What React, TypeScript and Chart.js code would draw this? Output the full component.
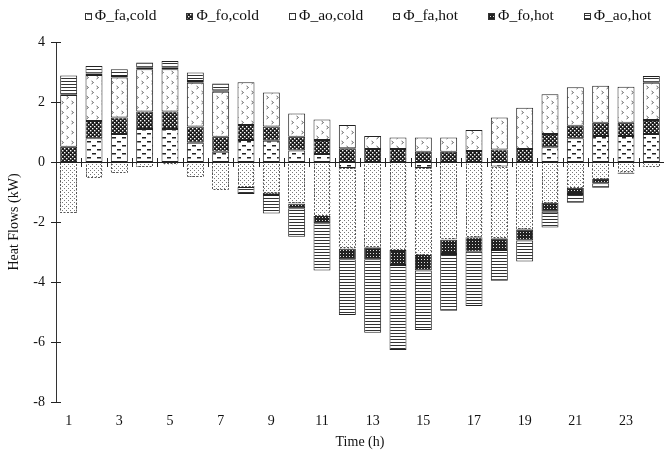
import React, { useEffect, useRef } from "react";
import { Chart, registerables } from "chart.js";
Chart.register(...registerables);

const hours = ["1","2","3","4","5","6","7","8","9","10","11","12","13","14","15","16","17","18","19","20","21","22","23","24"];
const yTickValues = [-8, -6, -4, -2, 0, 2, 4];

const faCold = [null,0.79,0.93,1.1,1.1,0.64,0.34,0.73,0.71,0.38,0.27,-0.2,null,null,-0.2,null,null,-0.15,null,0.49,0.79,0.87,0.87,0.93];
const foCold = [0.51,0.58,0.55,0.58,0.58,0.54,0.5,0.5,0.47,0.46,0.46,0.46,0.43,0.43,0.34,0.34,0.37,0.42,0.43,0.44,0.42,0.44,0.44,0.47];
const aoCold = [1.72,1.53,1.34,1.41,1.41,1.46,1.5,1.43,1.14,0.78,0.69,0.77,0.44,0.39,0.48,0.48,0.7,1.06,1.38,1.33,1.28,1.23,1.2,1.24];
const faHot = [-1.71,-0.53,-0.38,-0.18,-0.08,-0.5,-0.93,-0.83,-1.02,-1.38,-1.8,-2.68,-2.84,-2.93,-2.9,-2.58,-2.51,-2.39,-2.24,-1.36,-0.86,-0.57,-0.35,-0.18];
const foHot = [0.03,0.05,0.05,0.05,0.05,0.06,0.05,null,-0.08,-0.16,-0.24,-0.36,-0.4,-0.5,-0.52,-0.49,-0.48,-0.39,-0.38,-0.3,-0.21,-0.14,-0.04,null];
const aoHot = [0.62,0.25,0.22,0.18,0.23,0.28,0.23,-0.24,-0.62,-0.95,-1.58,-1.86,-2.45,-2.84,-1.98,-1.89,-1.81,-1.03,-0.7,-0.52,-0.29,-0.15,null,0.23];

const seriesNames = ["Φ_fa,cold", "Φ_fo,cold", "Φ_ao,cold", "Φ_fa,hot", "Φ_fo,hot", "Φ_ao,hot"];

const FONT = '"Liberation Serif", "Times New Roman", serif';

function makePattern(w: number, h: number, bg: string, draw: (c: CanvasRenderingContext2D) => void): CanvasPattern {
  const cv = document.createElement("canvas");
  cv.width = w;
  cv.height = h;
  const c = cv.getContext("2d")!;
  c.fillStyle = bg;
  c.fillRect(0, 0, w, h);
  draw(c);
  return c.createPattern(cv, "repeat")!;
}

export default function App() {
  const ref = useRef<HTMLCanvasElement | null>(null);

  useEffect(() => {
    const canvas = ref.current!;
    const pDash = makePattern(10, 8, "#fff", (c) => {
      c.fillStyle = "#222";
      c.fillRect(2, 1, 4, 1.5);
      c.fillRect(7, 5, 4, 1.5);
      c.fillRect(-3, 5, 4, 1.5);
    });
    const pCheck = makePattern(4, 4, "#1c1c1c", (c) => {
      c.fillStyle = "#fff";
      c.fillRect(0, 0, 1.4, 1.4);
      c.fillRect(2, 2, 1.4, 1.4);
    });
    const pChev = makePattern(10, 10, "#fff", (c) => {
      c.strokeStyle = "#666";
      c.lineWidth = 1;
      c.beginPath();
      c.moveTo(1.5, 1); c.lineTo(3.5, 2.5); c.lineTo(1.5, 4);
      c.moveTo(6.5, 6); c.lineTo(8.5, 7.5); c.lineTo(6.5, 9);
      c.stroke();
    });
    const pStip = makePattern(4, 4, "#fff", (c) => {
      c.fillStyle = "#777";
      c.fillRect(0, 0, 1, 1);
      c.fillRect(2, 2, 1, 1);
    });
    const pDark = makePattern(3, 3, "#222", (c) => {
      c.fillStyle = "#ddd";
      c.fillRect(1, 1, 1, 1);
    });
    const pLines = makePattern(4, 3, "#fff", (c) => {
      c.fillStyle = "#333";
      c.fillRect(0, 0, 4, 1);
    });

    const fills = [pDash, pCheck, pChev, pStip, pDark, pLines];
    const borderW = [1, 1, 1, 0, 1, 1];
    const values = [faCold, foCold, aoCold, faHot, foHot, aoHot];

    const decor = {
      id: "decor",
      afterDatasetsDraw(chart: any) {
        const { ctx, chartArea, scales } = chart;
        const { left, right } = chartArea;
        const x = scales.x;
        const y = scales.y;
        ctx.save();
        // dashed outline for the stippled series
        const meta = chart.getDatasetMeta(3);
        ctx.strokeStyle = "#555";
        ctx.lineWidth = 1;
        ctx.setLineDash([2, 1.5]);
        meta.data.forEach((el: any, i: number) => {
          if (faHot[i] === null) return;
          const p = el.getProps(["x", "y", "base", "width"], true);
          const l = Math.round(p.x - p.width / 2) + 0.5;
          const r = Math.round(p.x + p.width / 2) - 0.5;
          const t = Math.round(Math.min(p.y, p.base)) + 0.5;
          const b = Math.round(Math.max(p.y, p.base)) - 0.5;
          ctx.strokeRect(l, t, r - l, b - t);
        });
        ctx.setLineDash([]);
        const y0 = Math.round(y.getPixelForValue(0)) + 0.5;
        ctx.strokeStyle = "#222";
        ctx.beginPath();
        ctx.moveTo(left, y0);
        ctx.lineTo(right, y0);
        for (let i = 1; i < hours.length; i++) {
          const bx = Math.round((x.getPixelForValue(i - 1) + x.getPixelForValue(i)) / 2) + 0.5;
          ctx.moveTo(bx, y0 - 4.5);
          ctx.lineTo(bx, y0 + 4.5);
        }
        for (const v of yTickValues) {
          const py = Math.round(y.getPixelForValue(v)) + 0.5;
          ctx.moveTo(left - 5, py);
          ctx.lineTo(left + 5, py);
        }
        ctx.stroke();
        ctx.restore();
      },
      afterDraw(chart: any) {
        const { ctx } = chart;
        ctx.save();
        ctx.font = `15.5px ${FONT}`;
        ctx.textBaseline = "middle";
        ctx.textAlign = "left";
        const box = 6, gap = 4, spacing = 30;
        const widths = seriesNames.map((n) => ctx.measureText(n).width);
        const total = widths.reduce((a: number, b: number) => a + b, 0) + seriesNames.length * (box + gap) + spacing * (seriesNames.length - 1);
        let cx = 368 - total / 2;
        const cy = 16;
        seriesNames.forEach((n, i) => {
          const bx = Math.round(cx) + 0.5;
          const by = Math.round(cy - box / 2) + 0.5;
          ctx.fillStyle = fills[i];
          ctx.fillRect(bx, by, box, box);
          ctx.strokeStyle = "#333";
          ctx.lineWidth = 1;
          ctx.strokeRect(bx, by, box, box);
          ctx.fillStyle = "#111";
          ctx.fillText(n, cx + box + gap, cy);
          cx += box + gap + widths[i] + spacing;
        });
        ctx.restore();
      },
    };

    const chart = new Chart(canvas, {
      type: "bar",
      data: {
        labels: hours,
        datasets: seriesNames.map((name, i) => ({
          label: name,
          data: values[i] as any,
          backgroundColor: fills[i] as any,
          borderColor: "#222",
          borderWidth: borderW[i],
          borderSkipped: false,
          barPercentage: 0.67,
          categoryPercentage: 1,
          stack: "s",
        })),
      },
      options: {
        responsive: false,
        animation: false,
        devicePixelRatio: 1,
        layout: { padding: { top: 42, left: 0, right: 0, bottom: 0 } },
        plugins: {
          legend: { display: false },
          tooltip: { enabled: false },
        },
        scales: {
          x: {
            stacked: true,
            grid: { display: false },
            border: { display: false },
            ticks: {
              autoSkip: false,
              maxRotation: 0,
              padding: 3,
              color: "#111",
              font: { family: FONT, size: 14 },
              callback: (_v: any, i: number) => (i % 2 === 0 ? hours[i] : ""),
            },
            title: {
              display: true,
              text: "Time (h)",
              color: "#111",
              font: { family: FONT, size: 14 },
              padding: { top: 0, bottom: 5 },
            },
            afterFit: (s: any) => { s.height = 54; },
          },
          y: {
            stacked: true,
            min: -8,
            max: 4,
            grid: { display: false, drawTicks: false },
            border: { display: true, color: "#333", width: 1 },
            ticks: {
              stepSize: 2,
              padding: 11,
              color: "#111",
              font: { family: FONT, size: 14 },
            },
            title: {
              display: true,
              text: "Heat Flows (kW)",
              color: "#111",
              font: { family: FONT, size: 14 },
              padding: { top: 6, bottom: 0 },
            },
            afterFit: (s: any) => { s.width = 56; },
          },
        },
      },
      plugins: [decor],
    });
    return () => chart.destroy();
  }, []);

  return (
    <div style={{ position: "fixed", left: 0, top: 0, width: 664, height: 456, background: "#fff" }}>
      <canvas ref={ref} width={664} height={456} style={{ display: "block" }} />
    </div>
  );
}
